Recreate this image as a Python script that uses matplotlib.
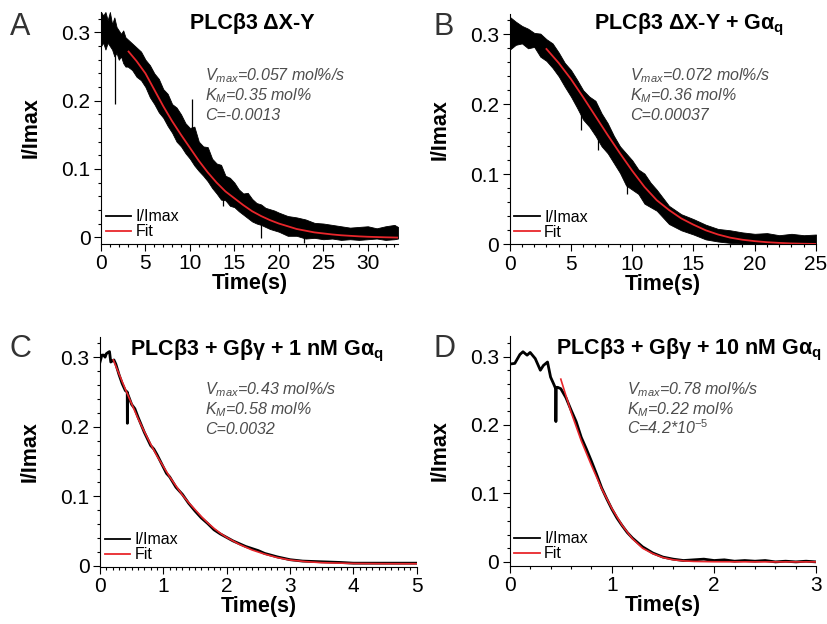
import matplotlib
matplotlib.use("Agg")
import matplotlib.pyplot as plt
from matplotlib.lines import Line2D

plt.rcParams["font.family"] = ["Liberation Sans", "DejaVu Sans"]
plt.rcParams["mathtext.fontset"] = "custom"
plt.rcParams["mathtext.rm"] = "Liberation Sans"
plt.rcParams["mathtext.it"] = "Liberation Sans:italic"
plt.rcParams["mathtext.bf"] = "Liberation Sans:bold"

# ---- panel A : PLCb3 dX-Y (noisy trace read as a band + spikes) ----
t_a = [0, 0.25, 0.5, 0.75, 1.0, 1.25, 1.5, 1.75, 2.0, 2.25, 2.5, 2.75, 3.0,
       3.5, 4.0, 4.5, 5.0, 5.5, 6.0, 6.5, 7.0, 7.5, 8.0, 8.5, 9.0, 9.5, 10.0,
       10.5, 11.0, 11.5, 12.0, 12.5, 13.0, 13.5, 14.0, 14.5, 15.0, 15.5, 16.0,
       16.5, 17.0, 17.5, 18.0, 18.5, 19.0, 19.5, 20.0, 21, 22, 23, 24, 25, 26,
       27, 28, 29, 30, 31, 32, 33, 33.4]
hi_a = [0.33, 0.325, 0.33, 0.318, 0.33, 0.312, 0.322, 0.308, 0.303, 0.298, 0.303, 0.293, 0.29,
        0.284, 0.278, 0.272, 0.26, 0.252, 0.24, 0.232, 0.217, 0.21, 0.195, 0.19, 0.18, 0.167, 0.16,
        0.162, 0.14, 0.133, 0.132, 0.115, 0.108, 0.106, 0.09, 0.087, 0.08, 0.07, 0.064,
        0.065, 0.056, 0.05, 0.048, 0.043, 0.041, 0.039, 0.036, 0.031, 0.029, 0.026, 0.021, 0.02, 0.018,
        0.016, 0.014, 0.015, 0.016, 0.013, 0.016, 0.018, 0.015]
lo_a = [0.28, 0.285, 0.275, 0.285, 0.28, 0.275, 0.265, 0.27, 0.26, 0.265, 0.255, 0.25, 0.25,
        0.245, 0.235, 0.23, 0.22, 0.205, 0.195, 0.183, 0.175, 0.163, 0.153, 0.14, 0.133, 0.123, 0.115,
        0.105, 0.097, 0.09, 0.082, 0.072, 0.064, 0.055, 0.054, 0.046, 0.044, 0.038, 0.033,
        0.028, 0.023, 0.02, 0.018, 0.015, 0.012, 0.01, 0.008, 0.002, 0.002, -0.002, -0.001, -0.003, -0.002,
        -0.004, -0.003, -0.004, -0.003, -0.002, -0.004, -0.003, -0.002]
spike_t_a = [1.55, 10.2, 13.7, 18.0, 22.8]
spike_lo_a = [0.195, 0.12, 0.045, -0.001, -0.008]
spike_hi_a = [0.28, 0.203, 0.08, 0.03, 0.01]
fit_t_a = [3.1, 4, 5, 6, 7, 8, 9, 10, 11, 12, 13, 14, 15, 16, 17, 18, 19, 20,
           21, 22, 23, 24, 25, 26, 27, 28, 29, 30, 31, 32, 33.4]
fit_a = [0.272, 0.258, 0.240, 0.216, 0.192, 0.170, 0.150, 0.131, 0.112, 0.095, 0.080,
         0.067, 0.057, 0.047, 0.038, 0.031, 0.025, 0.020, 0.016, 0.012, 0.0095, 0.007,
         0.0055, 0.004, 0.0028, 0.002, 0.0012, 0.0006, 0.0002, -0.0002, -0.0006]

# ---- panel B : PLCb3 dX-Y + Gaq ----
t_b = [0, 0.5, 1.0, 1.5, 2.0, 2.5, 3.0, 3.5, 4.0, 4.5, 5.0, 5.5, 6.0, 6.5, 7.0,
       7.5, 8.0, 8.5, 9.0, 9.5, 10.0, 10.5, 11.0, 11.5, 12.0, 13, 14, 15, 16, 17,
       18, 19, 20, 21, 22, 23, 24, 25]
hi_b = [0.325, 0.318, 0.312, 0.308, 0.302, 0.301, 0.293, 0.287, 0.274, 0.259, 0.249, 0.235, 0.22,
        0.211, 0.205, 0.187, 0.173, 0.155, 0.14, 0.13, 0.12, 0.107, 0.101, 0.088, 0.078,
        0.055, 0.043, 0.036, 0.028, 0.022, 0.02, 0.017, 0.015, 0.016, 0.013, 0.015, 0.013, 0.014]
lo_b = [0.278, 0.285, 0.287, 0.28, 0.282, 0.268, 0.262, 0.252, 0.24, 0.225, 0.211, 0.195, 0.178,
        0.168, 0.155, 0.14, 0.13, 0.116, 0.102, 0.084, 0.078, 0.072, 0.058, 0.053, 0.048,
        0.029, 0.02, 0.014, 0.007, 0.004, 0.002, 0.001, 0.0, 0.0, 0.0, 0.0, 0.0, 0.0]
spike_t_b = [5.8, 7.2, 9.6]
spike_lo_b = [0.163, 0.135, 0.072]
spike_hi_b = [0.20, 0.16, 0.09]
fit_t_b = [3.0, 4, 5, 6, 7, 8, 9, 10, 11, 12, 13, 14, 15, 16, 17, 18, 19, 20,
           21, 22, 23, 24, 25]
fit_b = [0.279, 0.259, 0.236, 0.21, 0.183, 0.156, 0.13, 0.105, 0.082, 0.063, 0.049,
         0.037, 0.028, 0.02, 0.014, 0.0095, 0.0065, 0.0045, 0.003, 0.002, 0.0012,
         0.0008, 0.0005]

# ---- panel C : PLCb3 + Gbg + 1 nM Gaq ----
t_c = [0, 0.03, 0.06, 0.08, 0.1, 0.13, 0.15, 0.17, 0.2, 0.22, 0.25, 0.3, 0.35,
       0.4, 0.43, 0.432, 0.434, 0.5, 0.55, 0.6, 0.7, 0.8, 0.85, 0.9, 1.0, 1.05,
       1.1, 1.2, 1.3, 1.4, 1.5, 1.6, 1.7, 1.8, 1.9, 2.0, 2.1, 2.2, 2.3, 2.4,
       2.5, 2.6, 2.8, 3.0, 3.2, 3.5, 3.8, 4.0, 4.5, 5.0]
y_c = [0.293, 0.303, 0.303, 0.30, 0.305, 0.307, 0.308, 0.293, 0.295, 0.296, 0.29,
       0.275, 0.262, 0.252, 0.25, 0.205, 0.248, 0.232, 0.226, 0.214, 0.192, 0.173,
       0.168, 0.16, 0.142, 0.133, 0.128, 0.113, 0.103, 0.09, 0.079, 0.069, 0.061,
       0.052, 0.046, 0.041, 0.036, 0.032, 0.028, 0.025, 0.022, 0.018, 0.013, 0.009,
       0.007, 0.006, 0.005, 0.004, 0.004, 0.004]
fit_t_c = [0.21, 0.3, 0.4, 0.5, 0.6, 0.7, 0.8, 0.9, 1.0, 1.1, 1.2, 1.3, 1.4, 1.5,
           1.6, 1.7, 1.8, 1.9, 2.0, 2.2, 2.4, 2.6, 2.8, 3.0, 3.25, 3.5, 4.0, 4.5, 5.0]
fit_c = [0.296, 0.276, 0.254, 0.233, 0.212, 0.193, 0.175, 0.158, 0.143, 0.128, 0.115,
         0.102, 0.091, 0.081, 0.071, 0.062, 0.054, 0.047, 0.041, 0.031, 0.023, 0.017,
         0.012, 0.0085, 0.0062, 0.0047, 0.0036, 0.0033, 0.0032]

# ---- panel D : PLCb3 + Gbg + 10 nM Gaq ----
t_d = [0, 0.05, 0.1, 0.13, 0.17, 0.2, 0.25, 0.3, 0.33, 0.37, 0.4, 0.43, 0.45,
       0.452, 0.455, 0.47, 0.5, 0.55, 0.6, 0.65, 0.7, 0.75, 0.8, 0.85, 0.9, 0.95,
       1.0, 1.05, 1.1, 1.15, 1.2, 1.3, 1.4, 1.5, 1.6, 1.7, 1.8, 1.9, 2.0, 2.1,
       2.2, 2.3, 2.4, 2.5, 2.6, 2.7, 2.8, 2.9, 3.0]
y_d = [0.289, 0.29, 0.303, 0.307, 0.302, 0.306, 0.297, 0.28, 0.287, 0.292, 0.27,
       0.26, 0.253, 0.205, 0.255, 0.255, 0.253, 0.24, 0.222, 0.205, 0.182, 0.165,
       0.147, 0.128, 0.108, 0.092, 0.077, 0.064, 0.053, 0.043, 0.035, 0.022, 0.013,
       0.007, 0.004, 0.002, 0.003, 0.004, 0.002, 0.003, 0.001, 0.002, 0.001, 0.002,
       0.0, 0.001, 0.0, 0.001, 0.0]
fit_t_d = [0.5, 0.6, 0.7, 0.8, 0.9, 1.0, 1.1, 1.2, 1.3, 1.4, 1.5, 1.6, 1.7, 1.8,
           2.0, 2.5, 3.0]
fit_d = [0.267, 0.219, 0.177, 0.141, 0.107, 0.078, 0.0535, 0.034, 0.02, 0.012,
         0.0063, 0.003, 0.0015, 0.0007, 0.0002, 0.0, 0.0]

titles = [r"PLCβ3 ΔX-Y", r"PLCβ3 ΔX-Y + Gα$_\mathbf{q}$",
          r"PLCβ3 + Gβγ + 1 nM Gα$_\mathbf{q}$", r"PLCβ3 + Gβγ + 10 nM Gα$_\mathbf{q}$"]
vmax = ["0.057", "0.072", "0.43", "0.78"]
km = ["0.35", "0.36", "0.58", "0.22"]
cval = ["-0.0013", "0.00037", "0.0032", r"4.2*10$^{\mathit{-5}}$"]
letters = ["A", "B", "C", "D"]

RED = "#e8262b"
GREY = "#4d4d4d"
W, H = 828, 624


def fx(x):
    return x / W


def fy(y):
    return 1 - y / H


def style_axis(ax, xmax, xmajor, xminor, ylim):
    for s in ["top", "right"]:
        ax.spines[s].set_visible(False)
    for s in ["left", "bottom"]:
        ax.spines[s].set_linewidth(0.8)
    ax.set_xlim(0, xmax)
    ax.set_ylim(*ylim)
    ax.set_xticks(xmajor)
    ax.set_xticklabels([f"{v:g}" for v in xmajor])
    ax.set_xticks(xminor, minor=True)
    ax.set_yticks([0, 0.1, 0.2, 0.3])
    ax.set_yticklabels(["0", "0.1", "0.2", "0.3"])
    ax.set_yticks([i * 0.02 for i in range(17) if i % 5 != 0], minor=True)
    ax.tick_params(which="both", direction="out", width=0.8, labelsize=15, pad=2.5)
    ax.tick_params(which="major", length=5)
    ax.tick_params(which="minor", length=2.5)
    ax.set_xlabel("Time(s)", fontsize=15.5, fontweight="bold", labelpad=0)
    ax.set_ylabel("I/Imax", fontsize=15.5, fontweight="bold", labelpad=14)
    handles = [Line2D([], [], color="black", lw=1.3), Line2D([], [], color=RED, lw=1.3)]
    ax.legend(handles, ["I/Imax", "Fit"], loc="lower left", fontsize=11.5,
              frameon=False, handlelength=1.6, handletextpad=0.25, labelspacing=0.0,
              borderaxespad=0.1, borderpad=0.2)


fig = plt.figure(figsize=(8.28, 6.24), dpi=100)

# axes rectangles in pixels: left, top, right, bottom
boxes = [(101, 12, 398, 244), (509.7, 14, 816, 244.3),
         (100, 337, 416.7, 567), (509.7, 336, 816.3, 566)]
axes = []
for (l, t, r, b) in boxes:
    axes.append(fig.add_axes([fx(l), fy(b), fx(r - l), (b - t) / H]))
axA, axB, axC, axD = axes

axA.fill_between(t_a, lo_a, hi_a, color="black", lw=0.6)
axA.vlines(spike_t_a, spike_lo_a, spike_hi_a, color="black", lw=0.9)
axA.plot(fit_t_a, fit_a, color=RED, lw=1.3)
style_axis(axA, 33.4, range(0, 35, 5), [i for i in range(34) if i % 5], (-0.01, 0.33))

axB.fill_between(t_b, lo_b, hi_b, color="black", lw=0.6)
axB.vlines(spike_t_b, spike_lo_b, spike_hi_b, color="black", lw=0.9)
axB.plot(fit_t_b, fit_b, color=RED, lw=1.3)
style_axis(axB, 25, range(0, 30, 5), [i for i in range(26) if i % 5], (0, 0.329))

axC.plot(t_c, y_c, color="black", lw=2)
axC.plot(fit_t_c, fit_c, color=RED, lw=1.2)
style_axis(axC, 5, range(0, 6), [i / 10 for i in range(51) if i % 10], (-0.0015, 0.329))

axD.plot(t_d, y_d, color="black", lw=2)
axD.plot(fit_t_d, fit_d, color=RED, lw=1.2)
style_axis(axD, 3, range(0, 4), [i / 5 for i in range(16) if i % 5], (-0.006, 0.33))

# titles, panel letters and fit parameters (pixel positions)
title_pos = [(252.5, 29), (689, 29), (257.5, 355), (689, 354.7)]
letter_pos = [(10, 35), (434, 35), (10, 357), (434, 357)]
note_pos = [(205, 80), (630, 80), (205, 394), (627, 394)]
for i in range(4):
    fig.text(fx(title_pos[i][0]), fy(title_pos[i][1]), titles[i], fontsize=15.5,
             fontweight="bold", ha="center", va="baseline")
    fig.text(fx(letter_pos[i][0]), fy(letter_pos[i][1]), letters[i], fontsize=22,
             color="#333333", ha="left", va="baseline")
    nx, ny = note_pos[i]
    lines = [f"V$_{{max}}$=%s mol%%/s" % vmax[i], f"K$_{{M}}$=%s mol%%" % km[i],
             "C=" + cval[i]]
    for j, txt in enumerate(lines):
        fig.text(fx(nx), fy(ny + 20 * j), txt, fontsize=11.5, style="italic",
                 color=GREY, ha="left", va="baseline")

fig.savefig("out.png", dpi=100)
